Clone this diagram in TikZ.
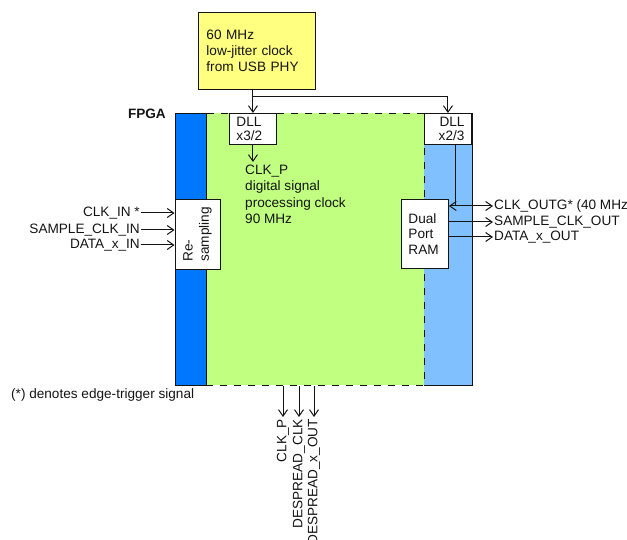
\documentclass[tikz,border=0pt]{standalone}
\usepackage{fontspec}
\setmainfont{Liberation Sans}
\usepackage{tikz}
\usetikzlibrary{positioning,arrows.meta}
\definecolor{usbyellow}{HTML}{FFFF80}
\definecolor{fpgablue}{HTML}{0077FF}
\definecolor{dspgreen}{HTML}{C0FF80}
\definecolor{outblue}{HTML}{80C0FF}
\definecolor{wire}{HTML}{141414}

\begin{document}
\begin{tikzpicture}[x=1pt,y=-1pt,
  every node/.style={align=left,font=\fontsize{13.6}{16.2}\selectfont,text=wire},
  blk/.style={draw=wire,line width=0.9pt,fill=white,inner sep=0pt},
  zone/.style={anchor=north west,minimum height=272pt,inner sep=0pt},
  >={Straight Barb[length=6.5pt,width=9pt,line width=1pt]},
  sig/.style={draw=wire,line width=1pt,->}]
  \useasboundingbox (0,0) rectangle (627,540);

  % clock source
  \node[blk,fill=usbyellow,anchor=north west,minimum width=117pt,minimum height=77pt,text width=101pt] (usb) at (198,12) {60 MHz\\low-jitter clock\\from USB PHY};

  % fpga zones
  \node[zone,fill=outblue,minimum width=48pt] (outzone) at (424,113) {};
  \draw[wire,line width=0.9pt] (outzone.north west) -- (outzone.north east) -- (outzone.south east) -- (outzone.south west);
  \node[zone,fill=dspgreen,draw=wire,line width=0.9pt,dash pattern=on 7pt off 7pt,minimum width=218pt] (dsp) at (206,113) {};
  \node[zone,fill=fpgablue,draw=wire,line width=0.9pt,minimum width=31pt] (io) at (175,113) {};
  \node[anchor=base east,inner sep=0pt,font=\fontsize{13.6}{16.2}\selectfont\bfseries] (fpga) at (166,119) {FPGA};

  % blocks
  \node[blk,anchor=north west,minimum width=47pt,minimum height=31pt,text width=33pt,font=\fontsize{13.6}{14.5}\selectfont] (dllp) at (229,113) {DLL\\x3/2};
  \node[blk,anchor=north west,minimum width=47pt,minimum height=31pt,text width=33pt,align=right,font=\fontsize{13.6}{14.5}\selectfont] (dllo) at (424,113) {DLL\\x2/3};
  \node[blk,anchor=north west,minimum width=47pt,minimum height=69pt,text width=33pt,font=\fontsize{13.6}{15.6}\selectfont] (ram) at (401,199) {Dual\\Port\\RAM};
  \node[blk,rotate=90,minimum width=70pt,minimum height=45pt,text width=55pt] (resamp) at (197.5,234) {Re-\\sampling};
  \node[anchor=north west,inner xsep=0pt,inner ysep=3pt] (clkp) at (245,162) {CLK\_P\\digital signal\\processing clock\\90 MHz};

  % clock tree
  \coordinate (split) at (dllp.north |- 0,97);
  \draw[sig] (usb.south -| dllp.north) -- (dllp.north);
  \draw[sig] (split) -| (dllo.north);
  \draw[sig] (dllp.south) -- (dllp.south |- clkp.north);

  % inputs
  \foreach \y/\txt [count=\i] in {213/{CLK\_IN *},230/{SAMPLE\_CLK\_IN},245/{DATA\_x\_IN}}{
    \node[anchor=east,inner sep=1pt] (in\i) at (141,\y) {\txt};
    \draw[sig] (in\i.east) -- (resamp.north |- in\i.east);
  }

  % outputs
  \coordinate (tap) at (455,206);
  \node[anchor=west,inner sep=1pt] (outclk) at (493,206) {CLK\_OUTG* (40 MHz)};
  \draw[wire,line width=0.9pt] (tap |- dllo.south) -- (tap);
  \draw[sig,<->] (ram.east |- tap) -- (outclk.west);
  \foreach \y/\txt [count=\i] in {222/{SAMPLE\_CLK\_OUT},237/{DATA\_x\_OUT}}{
    \node[anchor=west,inner sep=1pt] (out\i) at (493,\y) {\txt};
    \draw[sig] (ram.east |- out\i.west) -- (out\i.west);
  }
  \foreach \x/\txt [count=\i] in {283/{CLK\_P},299/{DESPREAD\_CLK},314/{DESPREAD\_x\_OUT}}{
    \node[rotate=90,anchor=east,inner sep=2pt] (dn\i) at (\x,417) {\txt};
    \draw[sig] (dsp.south -| dn\i.east) -- (dn\i.east);
  }

  \node[anchor=base west,inner sep=0pt] (note) at (11,398) {(*) denotes edge-trigger signal};
\end{tikzpicture}
\end{document}
